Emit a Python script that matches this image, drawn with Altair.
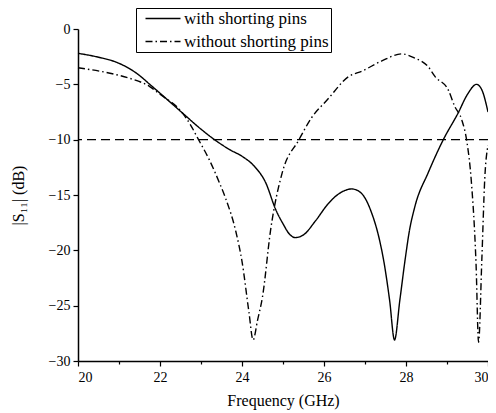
import altair as alt
import pandas as pd

# ---- data ----
freq_with = [20.0, 20.5, 21.0, 21.5, 21.75, 22.0, 22.55, 23.0, 23.33, 23.7, 24.0, 24.3,
             24.58, 24.82, 25.0, 25.15, 25.3, 25.5, 25.8, 26.1, 26.4, 26.68, 26.9, 27.16,
             27.35, 27.45, 27.6, 27.72, 27.85, 27.98, 28.08, 28.22, 28.54, 28.91, 29.27,
             29.5, 29.72, 29.85, 30.0]
s11_with = [-2.2, -2.55, -3.1, -4.2, -5.0, -5.8, -7.6, -9.05, -10.0, -10.9, -11.5, -12.4,
            -13.9, -16.3, -17.6, -18.5, -18.85, -18.6, -17.3, -15.8, -14.8, -14.45, -14.8, -16.6,
            -19.0, -20.8, -24.5, -28.1, -24.5, -20.8, -18.3, -16.0, -13.0, -10.0, -7.6,
            -5.9, -5.0, -5.5, -7.5]

freq_without = [20.0, 20.78, 21.3, 21.75, 22.0, 22.55, 22.75, 22.94, 23.2, 23.45, 23.61, 23.85,
                24.0, 24.17, 24.27, 24.38, 24.5, 24.7, 24.98, 25.39, 25.7, 26.08, 26.6, 26.93,
                27.4, 27.9, 28.2, 28.54, 28.71, 29.03, 29.19, 29.36, 29.49, 29.59, 29.71,
                29.77, 29.85, 29.92, 30.0]
s11_without = [-3.5, -4.0, -4.5, -5.2, -5.9, -7.6, -8.7, -10.0, -11.8, -13.9, -15.4, -18.3,
               -21.0, -25.6, -28.1, -26.3, -24.2, -18.1, -13.0, -10.0, -8.0, -6.4, -4.3, -3.8,
               -2.9, -2.25, -2.6, -3.4, -4.3, -5.5, -7.0, -8.2, -10.3, -13.6, -21.4,
               -28.3, -20.8, -13.6, -10.5]

series_names = ["with shorting pins", "without shorting pins"]
threshold = [-10]

x_ticks = [20, 21, 22, 23, 24, 25, 26, 27, 28, 29, 30]
y_ticks = [0, -2.5, -5, -7.5, -10, -12.5, -15, -17.5, -20, -22.5, -25, -27.5, -30]

df = pd.concat([
    pd.DataFrame({"freq": freq_with, "s11": s11_with, "series": series_names[0]}),
    pd.DataFrame({"freq": freq_without, "s11": s11_without, "series": series_names[1]}),
])

FONT = "Liberation Serif"

x_axis = alt.Axis(
    values=x_ticks, title="Frequency (GHz)", grid=False,
    labelExpr="datum.value % 2 === 0 ? datum.label : ''",
    tickSize={"condition": {"test": "datum.value % 2 !== 0", "value": 3}, "value": 5},
    tickColor="black", tickWidth=1.2, domainColor="black", domainWidth=1.5,
    labelFont=FONT, labelFontSize=14, labelColor="black", labelPadding=4,
    titleFont=FONT, titleFontSize=16, titleFontWeight="normal", titleColor="black",
    titlePadding=8,
)
y_axis = alt.Axis(
    values=y_ticks, title="|S₁₁| (dB)", grid=False,
    labelExpr="datum.value % 5 === 0 ? datum.label : ''",
    tickSize={"condition": {"test": "datum.value % 5 !== 0", "value": 3}, "value": 5},
    tickColor="black", tickWidth=1.2, domainColor="black", domainWidth=1.5,
    labelFont=FONT, labelFontSize=14, labelColor="black", labelPadding=3,
    titleFont=FONT, titleFontSize=16, titleFontWeight="normal", titleColor="black",
    titlePadding=22,
)

xs = alt.Scale(domain=[20, 30], nice=False, zero=False)
ys = alt.Scale(domain=[-30, 0], nice=False)

lines = alt.Chart(df).mark_line(color="black", strokeWidth=1.4, interpolate="monotone").encode(
    x=alt.X("freq:Q", scale=xs, axis=x_axis),
    y=alt.Y("s11:Q", scale=ys, axis=y_axis),
    strokeDash=alt.StrokeDash(
        "series:N",
        scale=alt.Scale(domain=series_names, range=[[1, 0], [7, 3, 1.5, 3]]),
        legend=alt.Legend(
            orient="none", legendX=58, legendY=-21, title=None,
            symbolType="M-1,0H34", symbolSize=4, symbolStrokeWidth=1.5,
            symbolStrokeColor="black", labelOffset=29,
            labelFont=FONT, labelFontSize=17, labelColor="black",
            strokeColor="black", fillColor="white", padding=2, rowPadding=5,
        ),
    ),
)

rule = alt.Chart(pd.DataFrame({"y": threshold})).mark_rule(
    color="black", strokeWidth=1.3, strokeDash=[9, 5]
).encode(y=alt.Y("y:Q", scale=ys))

chart = alt.layer(rule, lines).properties(
    width=410, height=332,
    autosize=alt.AutoSizeParams(type="none"),
    padding={"left": 70, "top": 21, "right": 0, "bottom": 50},
).configure_view(stroke=None)

chart.save("out.html", embed_options={"renderer": "svg", "actions": False})
